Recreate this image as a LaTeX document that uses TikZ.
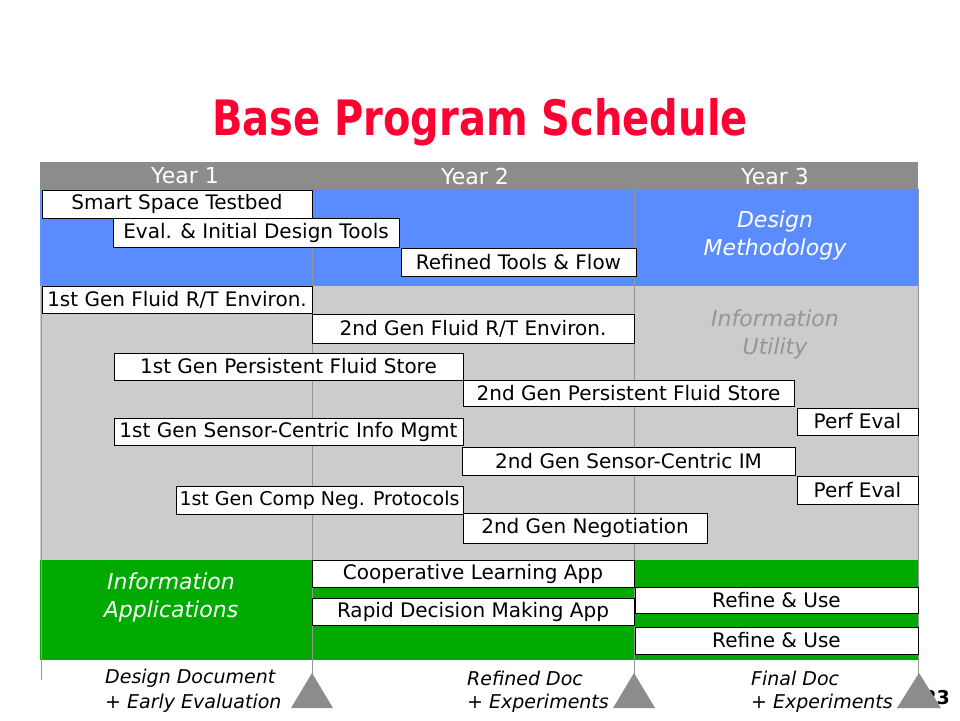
\documentclass[tikz,border=0pt]{standalone}
\usepackage{fontspec}
\setmainfont{DejaVu Sans}
\definecolor{hdrgray}{RGB}{140,140,140}
\definecolor{dmblue}{RGB}{91,140,255}
\definecolor{iugray}{RGB}{204,204,204}
\definecolor{iagreen}{RGB}{0,170,0}
\definecolor{titlered}{RGB}{255,0,51}
\definecolor{linegray}{RGB}{150,150,150}
\definecolor{trigray}{RGB}{140,140,140}
\definecolor{utilgray}{RGB}{150,150,150}
\begin{document}
\begin{tikzpicture}[x=1pt,y=-1pt,
  bar/.style={draw=black, line width=0.8pt, fill=white, inner sep=0pt, text=black, font=\fontsize{20}{24}\selectfont},
  narrowbar/.style={bar, font=\fontsize{19}{22}\selectfont},
  yearlbl/.style={text=white, inner sep=0pt, font=\fontsize{22}{26}\selectfont},
  bandlbl/.style={inner sep=0pt, align=center, font=\fontsize{22}{28}\selectfont\itshape},
  milelbl/.style={inner sep=0pt, anchor=west, font=\fontsize{19}{22}\selectfont\itshape, text=black},
  divider/.style={draw=linegray, line width=0.8pt},
  milestone/.style={fill=trigray, draw=none}]
\useasboundingbox (0,0) rectangle (960,720);
\fill[white] (0,0) rectangle (960,720);

% title
\node[text=titlered, inner sep=0pt, font=\fontsize{40}{48}\selectfont\bfseries] (title) at (480,122) {\scalebox{1}[1.22]{Base Program Schedule}};

% bands
\fill[hdrgray] (40,162) rectangle (918,189);
\fill[dmblue] (40,189) rectangle (918,286);
\fill[iugray] (40,286) rectangle (918,560);
\fill[iagreen] (40,560) rectangle (918,660);

% year labels
\node[yearlbl] (y1) at (185,176) {Year 1};
\node[yearlbl] (y2) at (475,176) {Year 2};
\node[yearlbl] (y3) at (775,176) {Year 3};

% dividers
\draw[divider] (41,189) -- (41,680);
\draw[divider] (312,189) -- (312,680);
\draw[divider] (634,189) -- (634,680);
\draw[divider] (918,189) -- (918,680);

% band labels
\node[bandlbl, text=white] (dm) at (775,235) {Design\\Methodology};
\node[bandlbl, text=utilgray] (iu) at (775,334) {Information\\Utility};
\node[bandlbl, text=white] (ia) at (171,597) {Information\\Applications};

% task bars
\node[bar, minimum width=270pt, minimum height=28pt] (smart) at (177,204) {Smart Space Testbed};
\node[bar, minimum width=286pt, minimum height=29pt] (eval) at (256,232.5) {Eval. \& Initial Design Tools};
\node[bar, minimum width=235pt, minimum height=28pt] (refined) at (518.5,262) {Refined Tools \& Flow};
\node[bar, minimum width=270pt, minimum height=27pt] (fluid1) at (177,299.5) {1st Gen Fluid R/T Environ.};
\node[bar, minimum width=322pt, minimum height=29pt] (fluid2) at (473,328.5) {2nd Gen Fluid R/T Environ.};
\node[bar, minimum width=349pt, minimum height=27pt] (store1) at (288.5,366.5) {1st Gen Persistent Fluid Store};
\node[bar, minimum width=331pt, minimum height=26pt] (store2) at (628.5,393) {2nd Gen Persistent Fluid Store};
\node[bar, minimum width=121pt, minimum height=27pt] (perf1) at (857.5,421.5) {Perf Eval};
\node[bar, minimum width=349pt, minimum height=27pt] (sensor1) at (288.5,431.5) {1st Gen Sensor-Centric Info Mgmt};
\node[bar, minimum width=333pt, minimum height=28pt] (sensor2) at (628.5,461) {2nd Gen Sensor-Centric IM};
\node[bar, minimum width=121pt, minimum height=28pt] (perf2) at (857.5,490) {Perf Eval};
\node[narrowbar, minimum width=287pt, minimum height=28pt] (neg1) at (319.5,500) {1st Gen Comp Neg. Protocols};
\node[bar, minimum width=244pt, minimum height=30pt] (neg2) at (585,528) {2nd Gen Negotiation};
\node[bar, minimum width=322pt, minimum height=27pt] (coop) at (473,573.5) {Cooperative Learning App};
\node[bar, minimum width=322pt, minimum height=27pt] (rapid) at (473,611.5) {Rapid Decision Making App};
\node[bar, minimum width=283pt, minimum height=26pt] (refine1) at (776.5,600) {Refine \& Use};
\node[bar, minimum width=283pt, minimum height=27pt] (refine2) at (776.5,640.5) {Refine \& Use};

% milestone captions
\node[milelbl] (m1a) at (105,678) {Design Document};
\node[milelbl] (m1b) at (105,703) {+ Early Evaluation};
\node[milelbl] (m2a) at (467,678) {Refined Doc};
\node[milelbl] (m2b) at (467,703) {+ Experiments};
\node[milelbl] (m3a) at (751,678) {Final Doc};
\node[milelbl] (m3b) at (751,703) {+ Experiments};

% slide number (partly hidden)
\node[inner sep=0pt, anchor=east, font=\fontsize{19}{22}\selectfont\bfseries, text=black] (pnum) at (950,698) {23};

% milestone triangles
\fill[milestone] (312,673) -- (333,708) -- (291,708) -- cycle;
\fill[milestone] (634,673) -- (655,708) -- (613,708) -- cycle;
\fill[milestone] (919,673) -- (941,708) -- (897,708) -- cycle;
\end{tikzpicture}
\end{document}
